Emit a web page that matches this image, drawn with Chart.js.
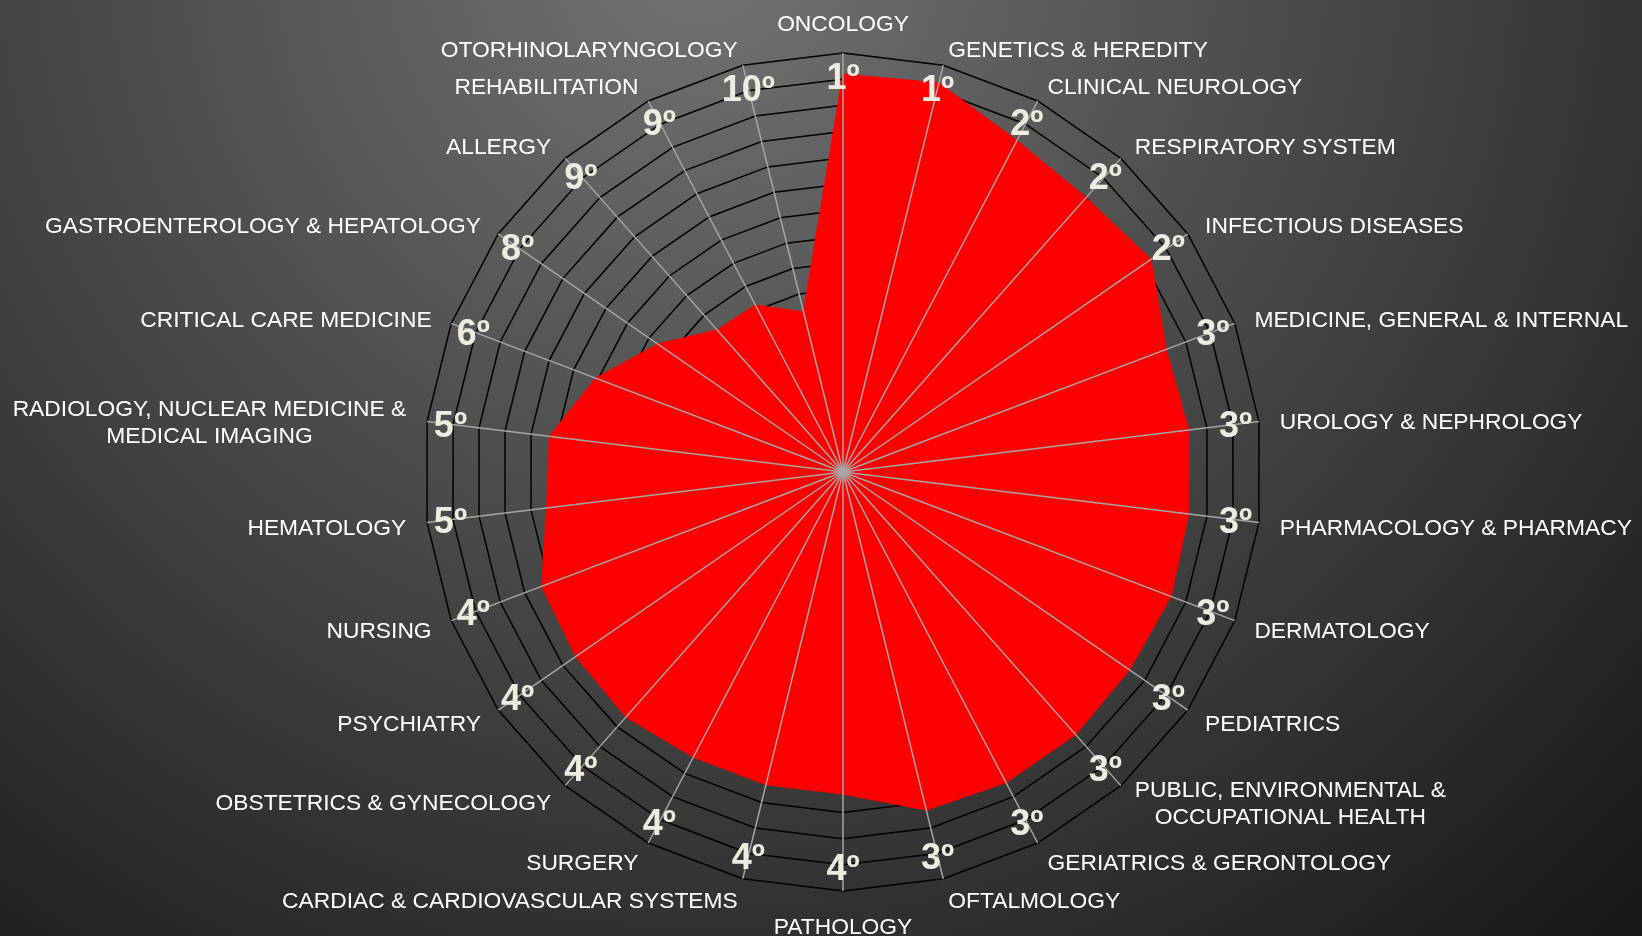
<!DOCTYPE html>
<html>
<head>
<meta charset="utf-8">
<script src="https://cdn.jsdelivr.net/npm/chart.js@4.4.1/dist/chart.umd.min.js"></script>
<style>
  html, body { margin: 0; padding: 0; background: #333; }
  #wrap { width: 1642px; height: 936px; }
</style>
</head>
<body>
<div id="wrap"><canvas id="radarChart" width="1642" height="936"></canvas></div>
<script>
// categories, clockwise from the top
const categories = [
  'ONCOLOGY', 'GENETICS & HEREDITY', 'CLINICAL NEUROLOGY', 'RESPIRATORY SYSTEM',
  'INFECTIOUS DISEASES', 'MEDICINE, GENERAL & INTERNAL', 'UROLOGY & NEPHROLOGY',
  'PHARMACOLOGY & PHARMACY', 'DERMATOLOGY', 'PEDIATRICS',
  ['PUBLIC, ENVIRONMENTAL &', 'OCCUPATIONAL HEALTH'],
  'GERIATRICS & GERONTOLOGY', 'OFTALMOLOGY', 'PATHOLOGY',
  'CARDIAC & CARDIOVASCULAR SYSTEMS', 'SURGERY', 'OBSTETRICS & GYNECOLOGY',
  'PSYCHIATRY', 'NURSING', 'HEMATOLOGY',
  ['RADIOLOGY, NUCLEAR MEDICINE &', 'MEDICAL IMAGING'],
  'CRITICAL CARE MEDICINE', 'GASTROENTEROLOGY & HEPATOLOGY', 'ALLERGY',
  'REHABILITATION', 'OTORHINOLARYNGOLOGY'
];

// values (scale 0..16)
const scores = [
  15.2, 15.3, 14.3, 14.0, 14.3, 13.2, 13.3, 13.3, 13.4, 13.3,
  13.4, 13.4, 13.3, 12.3, 12.3, 12.3, 12.5, 12.4, 12.3, 11.4,
  11.3, 10.1, 8.6, 7.25, 7.2, 6.3
];

// rank shown at the rim of every axis
const ranks = [
  '1º', '1º', '2º', '2º', '2º', '3º', '3º', '3º', '3º', '3º',
  '3º', '3º', '3º', '4º', '4º', '4º', '4º', '4º', '4º', '5º',
  '5º', '6º', '8º', '9º', '9º', '10º'
];

const scaleMax = 16;
const rankValue = 15.1;     // where the rank labels sit
const labelGap = 21;        // category labels, px outside the rim

const bgPlugin = {
  id: 'bg',
  beforeDraw(chart) {
    const { ctx, width, height } = chart;
    const g = ctx.createRadialGradient(700, -50, 0, 700, -50, 1400);
    g.addColorStop(0, '#737373');
    g.addColorStop(1, '#141414');
    ctx.save();
    ctx.fillStyle = g;
    ctx.fillRect(0, 0, width, height);
    ctx.restore();
  }
};

// spokes go over the red area, the rings stay under it
const overlayPlugin = {
  id: 'overlay',
  afterDatasetsDraw(chart) {
    const { ctx } = chart;
    const r = chart.scales.r;
    const n = categories.length;

    ctx.save();
    ctx.strokeStyle = '#a6a6a6';
    ctx.lineWidth = 1.5;
    for (let i = 0; i < n; i++) {
      const p = r.getPointPositionForValue(i, scaleMax);
      ctx.beginPath();
      ctx.moveTo(r.xCenter, r.yCenter);
      ctx.lineTo(p.x, p.y);
      ctx.stroke();
    }

    // rank labels
    ctx.fillStyle = '#eeece1';
    ctx.font = 'bold 36px "Liberation Sans", Arial, sans-serif';
    ctx.textAlign = 'center';
    ctx.textBaseline = 'middle';
    ranks.forEach((txt, i) => {
      const p = r.getPointPositionForValue(i, rankValue);
      ctx.fillText(txt, p.x, p.y + 3);
    });

    // category labels
    ctx.fillStyle = '#ffffff';
    ctx.font = '22.8px "Liberation Sans", Arial, sans-serif';
    const lineH = 27;
    categories.forEach((lab, i) => {
      const lines = Array.isArray(lab) ? lab : [lab];
      const angle = i * 360 / n;
      const p = r.getPointPosition(i, r.drawingArea + labelGap);
      const dy = 4 + 2 * Math.cos(angle * Math.PI / 180);
      const maxW = Math.max(...lines.map(l => ctx.measureText(l).width));
      let cx = p.x;
      if (angle > 0 && angle < 180) cx = p.x + maxW / 2;
      else if (angle > 180) cx = p.x - maxW / 2;
      const h = lines.length * lineH;
      let top = p.y - h / 2;
      if (angle === 0) top = p.y - h;
      else if (angle === 180) top = p.y;
      lines.forEach((l, k) => {
        ctx.fillText(l, cx, top + dy + lineH * k + lineH / 2);
      });
    });
    ctx.restore();
  }
};

new Chart(document.getElementById('radarChart').getContext('2d'), {
  type: 'radar',
  data: {
    labels: categories,
    datasets: [{
      label: 'Score',
      data: scores,
      backgroundColor: '#ff0000',
      borderColor: '#ff0000',
      borderWidth: 1,
      pointRadius: 0,
      fill: true,
      tension: 0
    }]
  },
  options: {
    responsive: false,
    animation: false,
    layout: { padding: { left: 424, right: 380, top: 53, bottom: 45 } },
    plugins: {
      legend: { display: false },
      tooltip: { enabled: false }
    },
    scales: {
      r: {
        min: 0,
        max: scaleMax,
        ticks: { display: false, stepSize: 1 },
        grid: { color: '#000000', lineWidth: 1.5 },
        angleLines: { display: false },
        pointLabels: { display: false }
      }
    }
  },
  plugins: [bgPlugin, overlayPlugin]
});
</script>
</body>
</html>
